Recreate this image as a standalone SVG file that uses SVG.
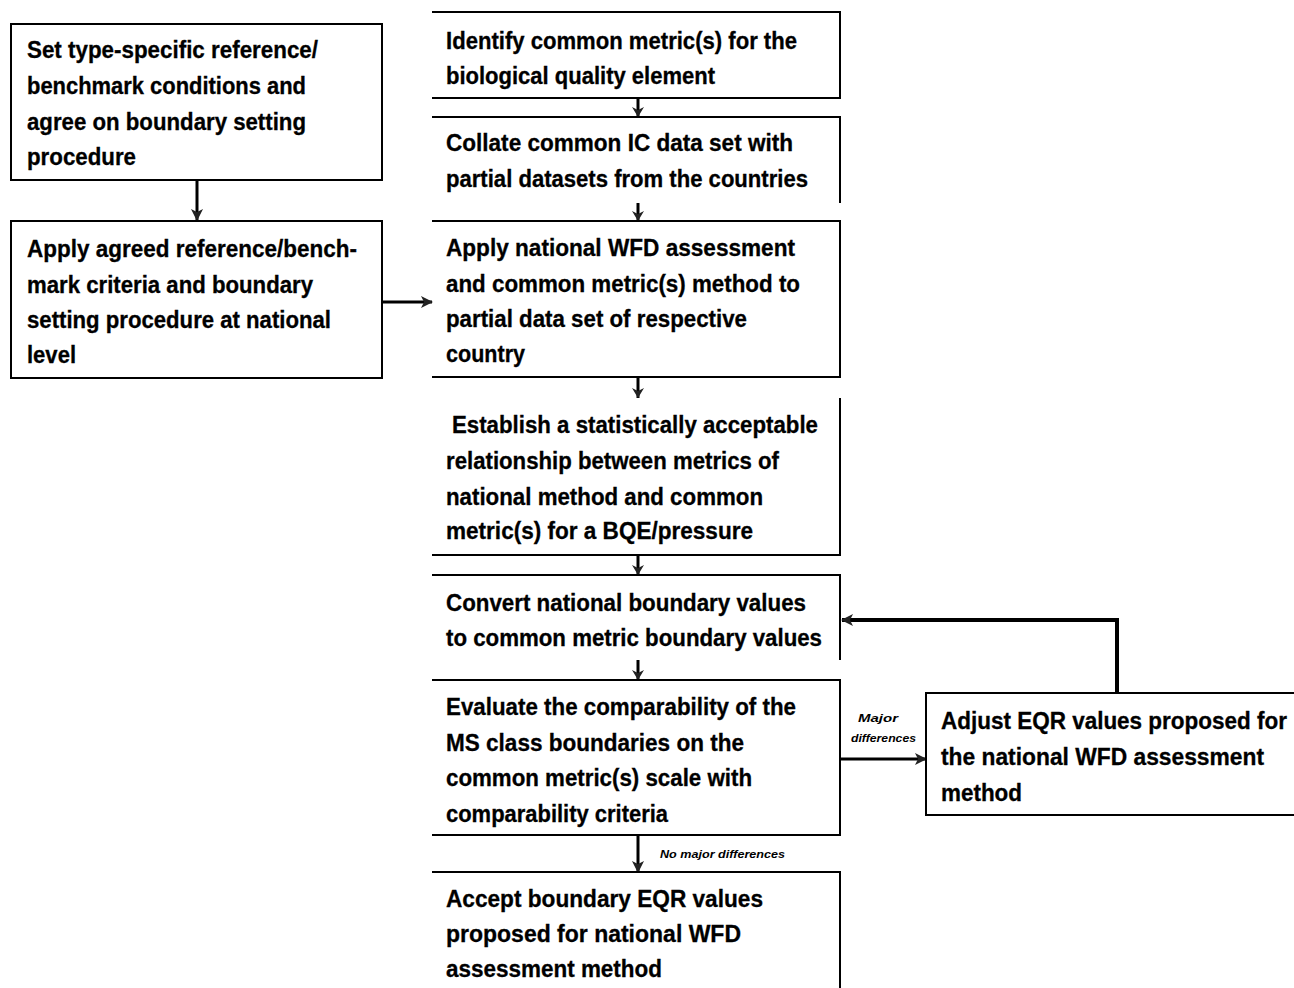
<svg xmlns="http://www.w3.org/2000/svg" width="1294" height="988" viewBox="0 0 1294 988">
<defs>
<style>
.box{fill:none;stroke:#000;stroke-width:2}
.t{font-family:"Liberation Sans",Arial,sans-serif;font-weight:bold;font-size:23px;fill:#000;stroke:#000;stroke-width:0.3}
.s{font-family:"Liberation Sans",Arial,sans-serif;font-weight:bold;font-style:italic;font-size:10px;fill:#000}
.c{fill:none;stroke:#000;stroke-width:3}
.cs{fill:none;stroke:#000;stroke-width:3}
</style>
<marker id="ah" markerWidth="12" markerHeight="12" refX="11" refY="6" orient="auto" markerUnits="userSpaceOnUse">
<path d="M0,0 L12,6 L0,12 L3,6 Z" fill="#222"/>
</marker>
<marker id="as" markerWidth="10" markerHeight="12" refX="10" refY="6" orient="auto" markerUnits="userSpaceOnUse">
<path d="M0,0 L10,6 L0,12 L3,6 Z" fill="#222"/>
</marker>
</defs>
<rect width="1294" height="988" fill="#fff"/>

<g id="connectors">
<line class="c" x1="197" y1="180" x2="197" y2="220" marker-end="url(#ah)"/>
<line class="c" x1="382" y1="302" x2="432" y2="302" marker-end="url(#ah)" stroke="#555"/>
<line class="cs" x1="638" y1="98" x2="638" y2="117" marker-end="url(#as)"/>
<line class="cs" x1="638" y1="203" x2="638" y2="221" marker-end="url(#as)"/>
<line class="cs" x1="638" y1="377" x2="638" y2="398" marker-end="url(#as)"/>
<line class="cs" x1="638" y1="555" x2="638" y2="575" marker-end="url(#as)"/>
<line class="cs" x1="638" y1="660" x2="638" y2="680" marker-end="url(#as)"/>
<line class="c" x1="638" y1="835" x2="638" y2="872" marker-end="url(#ah)"/>
<text class="s" x="660" y="858" textLength="125" lengthAdjust="spacingAndGlyphs">No major differences</text>
<line class="c" x1="840" y1="759" x2="926" y2="759" marker-end="url(#ah)" stroke="#333"/>
<text class="s" x="858" y="722" textLength="40" lengthAdjust="spacingAndGlyphs">Major</text>
<text class="s" x="851" y="742" textLength="65" lengthAdjust="spacingAndGlyphs">differences</text>
<polyline points="1117,693 1117,620 842,620" fill="none" stroke="#000" stroke-width="4" marker-end="url(#ah)"/>
</g>

<g id="n1">
<rect class="box" x="11" y="24" width="371" height="156"/>
<text class="t" x="27" y="58" textLength="291" lengthAdjust="spacingAndGlyphs">Set type-specific reference/</text>
<text class="t" x="27" y="94" textLength="279" lengthAdjust="spacingAndGlyphs">benchmark conditions and</text>
<text class="t" x="27" y="130" textLength="279" lengthAdjust="spacingAndGlyphs">agree on boundary setting</text>
<text class="t" x="27" y="165" textLength="109" lengthAdjust="spacingAndGlyphs">procedure</text>
</g>

<g id="n2">
<rect class="box" x="11" y="221" width="371" height="157"/>
<text class="t" x="27" y="257" textLength="330" lengthAdjust="spacingAndGlyphs">Apply agreed reference/bench-</text>
<text class="t" x="27" y="293" textLength="286" lengthAdjust="spacingAndGlyphs">mark criteria and boundary</text>
<text class="t" x="27" y="328" textLength="304" lengthAdjust="spacingAndGlyphs">setting procedure at national</text>
<text class="t" x="27" y="363" textLength="49" lengthAdjust="spacingAndGlyphs">level</text>
</g>

<g id="n3">
<path class="box" d="M432,12 H840 V98 H432"/>
<text class="t" x="446" y="49" textLength="351" lengthAdjust="spacingAndGlyphs">Identify common metric(s) for the</text>
<text class="t" x="446" y="84" textLength="269" lengthAdjust="spacingAndGlyphs">biological quality element</text>
</g>

<g id="n4">
<path class="box" d="M432,117 H840 V203"/>
<text class="t" x="446" y="151" textLength="347" lengthAdjust="spacingAndGlyphs">Collate common IC data set with</text>
<text class="t" x="446" y="187" textLength="362" lengthAdjust="spacingAndGlyphs">partial datasets from the countries</text>
</g>

<g id="n5">
<path class="box" d="M432,221 H840 V377 H432"/>
<text class="t" x="446" y="256" textLength="349" lengthAdjust="spacingAndGlyphs">Apply national WFD assessment</text>
<text class="t" x="446" y="292" textLength="354" lengthAdjust="spacingAndGlyphs">and common metric(s) method to</text>
<text class="t" x="446" y="327" textLength="301" lengthAdjust="spacingAndGlyphs">partial data set of respective</text>
<text class="t" x="446" y="362" textLength="79" lengthAdjust="spacingAndGlyphs">country</text>
</g>

<g id="n6">
<path class="box" d="M840,398 V555 H432"/>
<text class="t" x="452" y="433" textLength="366" lengthAdjust="spacingAndGlyphs">Establish a statistically acceptable</text>
<text class="t" x="446" y="469" textLength="333" lengthAdjust="spacingAndGlyphs">relationship between metrics of</text>
<text class="t" x="446" y="505" textLength="317" lengthAdjust="spacingAndGlyphs">national method and common</text>
<text class="t" x="446" y="539" textLength="307" lengthAdjust="spacingAndGlyphs">metric(s) for a BQE/pressure</text>
</g>

<g id="n7">
<path class="box" d="M432,575 H840 V660"/>
<text class="t" x="446" y="611" textLength="360" lengthAdjust="spacingAndGlyphs">Convert national boundary values</text>
<text class="t" x="446" y="646" textLength="376" lengthAdjust="spacingAndGlyphs">to common metric boundary values</text>
</g>

<g id="n8">
<path class="box" d="M432,680 H840 V835 H432"/>
<text class="t" x="446" y="715" textLength="350" lengthAdjust="spacingAndGlyphs">Evaluate the comparability of the</text>
<text class="t" x="446" y="751" textLength="298" lengthAdjust="spacingAndGlyphs">MS class boundaries on the</text>
<text class="t" x="446" y="786" textLength="306" lengthAdjust="spacingAndGlyphs">common metric(s) scale with</text>
<text class="t" x="446" y="822" textLength="222" lengthAdjust="spacingAndGlyphs">comparability criteria</text>
</g>

<g id="n9">
<path class="box" d="M432,872 H840 V988"/>
<text class="t" x="446" y="907" textLength="317" lengthAdjust="spacingAndGlyphs">Accept boundary EQR values</text>
<text class="t" x="446" y="942" textLength="295" lengthAdjust="spacingAndGlyphs">proposed for national WFD</text>
<text class="t" x="446" y="977" textLength="216" lengthAdjust="spacingAndGlyphs">assessment method</text>
</g>

<g id="n10">
<path class="box" d="M1294,693 H926 V815 H1294"/>
<text class="t" x="941" y="729" textLength="346" lengthAdjust="spacingAndGlyphs">Adjust EQR values proposed for</text>
<text class="t" x="941" y="765" textLength="323" lengthAdjust="spacingAndGlyphs">the national WFD assessment</text>
<text class="t" x="941" y="801" textLength="81" lengthAdjust="spacingAndGlyphs">method</text>
</g>
</svg>
